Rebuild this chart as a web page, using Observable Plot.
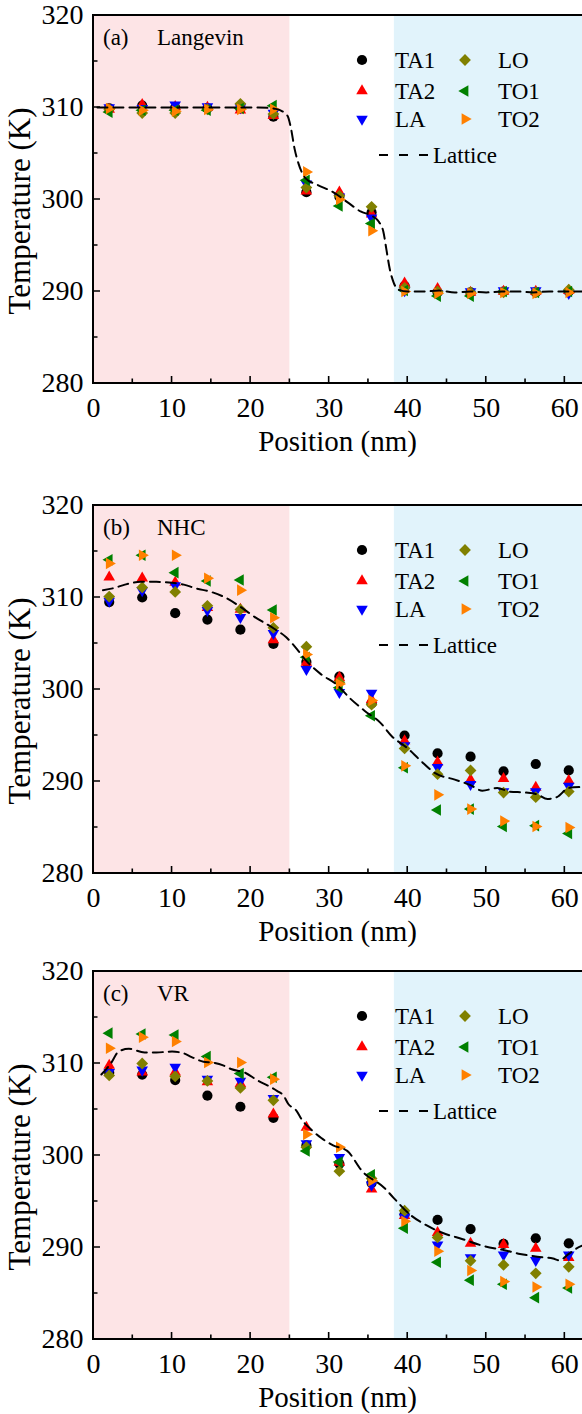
<!DOCTYPE html>
<html><head><meta charset="utf-8">
<script src="https://cdn.jsdelivr.net/npm/d3@7"></script>
<script src="https://cdn.jsdelivr.net/npm/@observablehq/plot@0.6"></script>
<style>
html,body{margin:0;padding:0;background:#fff;overflow:hidden;}
#chart{width:582px;}
#chart svg{display:block;}
</style></head><body><div id="chart"></div>
<script>
const FONT = "'Liberation Serif', 'DejaVu Serif', serif";

// ---------- data ----------
const positions = [2.0, 6.2, 10.4, 14.5, 18.7, 22.9, 27.1, 31.3, 35.4, 39.6, 43.8, 48.0, 52.2, 56.3, 60.5];
const seriesNames = ["TA1", "TA2", "LA", "LO", "TO1", "TO2"];
const seriesColors = ["#000000", "#ff0000", "#0000ff", "#808000", "#008000", "#ff8000"];
const panelLetters = ["(a)", "(b)", "(c)"];
const panelMethods = ["Langevin", "NHC", "VR"];
const xTitle = "Position (nm)";
const yTitle = "Temperature (K)";
const latticeLabel = "Lattice";
const xTicks = [0, 10, 20, 30, 40, 50, 60];
const xMinorTicks = [5, 15, 25, 35, 45, 55];
const yTicks = [280, 290, 300, 310, 320];
const yMinorTicks = [285, 295, 305, 315];
const xDomain = [0, 62.25];
const yDomain = [280, 320];
const hotRegion = [0, 25];
const coldRegion = [38.3, 62.25];

// (a) Langevin
const a_TA1 = [309.9, 310.2, 310.0, 309.9, 309.9, 309.0, 300.8, 300.3, 298.6, 290.6, 289.9, 289.9, 290.0, 289.9, 290.0];
const a_TA2 = [309.8, 310.3, 310.1, 310.0, 309.7, 309.1, 300.9, 300.8, 298.4, 290.9, 290.3, 289.9, 290.0, 290.0, 290.1];
const a_LA  = [310.0, 309.9, 310.3, 310.1, 310.0, 309.4, 301.7, 300.3, 298.0, 290.1, 289.8, 290.0, 290.1, 290.1, 289.8];
const a_LO  = [309.8, 309.4, 309.4, 309.8, 310.4, 309.3, 301.3, 300.4, 299.2, 290.4, 290.0, 289.9, 289.9, 289.9, 290.2];
const a_TO1 = [309.5, 309.7, 309.7, 309.7, 309.9, 310.2, 302.1, 299.3, 297.4, 290.1, 289.5, 289.5, 290.0, 289.9, 290.0];
const a_TO2 = [309.9, 309.7, 309.6, 309.8, 309.8, 309.8, 303.0, 300.0, 296.6, 290.0, 289.8, 289.8, 289.9, 289.8, 289.9];
const a_latX = [0.5, 3, 6, 9, 12, 15, 18, 21, 23.2, 24.7, 25.1, 25.6, 26.1, 27.0, 28.5, 30.5, 32.5, 34.0, 35.5, 36.3, 36.9, 37.3, 37.7, 38.2, 38.8, 40, 42, 44, 46, 48, 50, 52, 54, 56, 58, 60, 62.2];
const a_latT = [310.0, 310.0, 310.0, 310.0, 310.0, 310.0, 310.0, 310.0, 309.85, 309.1, 307.9, 305.5, 303.9, 302.3, 301.6, 300.8, 299.6, 298.7, 298.2, 297.6, 296.5, 294.5, 292.5, 291.0, 290.2, 290.0, 290.0, 290.1, 289.9, 290.0, 289.9, 290.0, 290.0, 289.9, 290.0, 290.0, 290.0];

// (b) NHC
const b_TA1 = [309.5, 310.0, 308.3, 307.6, 306.5, 304.95, 303.0, 301.4, 298.5, 295.0, 293.05, 292.7, 291.1, 291.9, 291.2];
const b_TA2 = [312.2, 312.1, 311.65, 308.9, 308.7, 305.4, 302.95, 301.3, 298.9, 294.4, 292.1, 290.2, 290.3, 289.35, 290.1];
const b_LA  = [309.6, 310.75, 311.3, 308.6, 307.85, 306.1, 302.2, 299.7, 299.6, 293.9, 291.55, 289.7, 288.9, 288.9, 289.5];
const b_LO  = [310.1, 311.1, 310.6, 309.1, 308.7, 306.7, 304.65, 300.8, 298.35, 293.6, 290.8, 291.2, 288.8, 288.3, 288.9];
const b_TO1 = [314.1, 314.6, 312.7, 311.8, 311.9, 308.65, 303.5, 300.2, 297.15, 291.5, 286.9, 287.0, 285.1, 285.2, 284.35];
const b_TO2 = [313.7, 314.6, 314.6, 312.1, 310.8, 307.8, 303.8, 300.6, 298.8, 291.7, 288.55, 287.0, 285.7, 285.1, 285.0];
const b_latX = [1.2, 2.5, 4, 6, 8, 10, 11.5, 13, 15, 17, 18.5, 20.5, 23, 24.5, 25.5, 27, 28.9, 31, 32.7, 34.5, 36.5, 38, 40, 41.6, 43.5, 46, 48, 49.5, 51.4, 53, 55, 56.5, 57.8, 59, 60.5, 62.2];
const b_latT = [310.8, 311.0, 311.4, 311.7, 311.7, 311.6, 311.4, 311.0, 310.6, 309.9, 309.1, 307.9, 306.6, 305.7, 304.8, 303.2, 301.7, 300.5, 299.0, 297.7, 296.4, 294.9, 293.6, 292.3, 290.9, 290.2, 289.6, 289.0, 289.3, 288.9, 288.8, 288.6, 288.1, 288.3, 289.3, 289.4];

// (c) VR
const c_TA1 = [309.0, 308.8, 308.2, 306.5, 305.3, 304.1, 301.1, 299.1, 297.0, 293.6, 293.0, 292.0, 290.4, 291.0, 290.45];
const c_TA2 = [309.8, 309.05, 309.05, 308.0, 307.8, 304.5, 303.05, 299.25, 296.35, 293.45, 291.6, 290.45, 290.3, 289.9, 288.9];
const c_LA  = [309.05, 309.3, 309.6, 308.3, 308.1, 306.2, 301.3, 299.8, 296.8, 293.3, 290.3, 288.9, 289.2, 288.6, 289.2];
const c_LO  = [308.7, 310.0, 308.6, 308.1, 307.35, 306.0, 300.9, 298.3, 297.5, 294.0, 291.1, 288.55, 288.1, 287.2, 287.9];
const c_TO1 = [313.3, 313.2, 313.1, 310.75, 308.9, 308.5, 300.5, 299.3, 297.9, 292.1, 288.4, 286.45, 286.0, 284.55, 285.6];
const c_TO2 = [311.65, 312.85, 312.4, 310.1, 310.1, 308.3, 302.3, 300.9, 297.25, 292.85, 289.6, 287.5, 286.3, 285.7, 286.0];
const c_latX = [1.0, 2.2, 3.2, 4.5, 6.5, 8, 10, 11.5, 12.5, 14, 15.2, 16.5, 17.5, 19.3, 21, 22.2, 23.4, 24.2, 24.8, 25.8, 26.6, 27.6, 29, 30.5, 32.3, 34.2, 37, 38.2, 40.4, 42.2, 44.4, 47, 49.5, 52.3, 54.3, 56.5, 58.5, 59.3, 60.5, 61.5, 62.2];
const c_latT = [308.8, 310.0, 311.3, 311.6, 311.2, 311.2, 311.3, 311.1, 310.7, 310.2, 310.1, 309.8, 309.4, 309.0, 308.1, 307.6, 307.0, 306.5, 305.6, 304.9, 303.8, 302.9, 301.9, 301.1, 300.5, 298.3, 296.5, 295.4, 293.5, 292.5, 291.6, 290.9, 290.2, 289.7, 289.3, 289.0, 288.8, 288.6, 289.3, 289.9, 290.2];

// ---------- symbols ----------
const sqrt3 = Math.sqrt(3);
function triangleDir(dir) {
  return {
    draw(ctx, size) {
      const y = -Math.sqrt(size / (sqrt3 * 3));
      if (dir === "down") { ctx.moveTo(0, -2 * y); ctx.lineTo(sqrt3 * y, y); ctx.lineTo(-sqrt3 * y, y); }
      else if (dir === "left") { ctx.moveTo(2 * y, 0); ctx.lineTo(-y, sqrt3 * y); ctx.lineTo(-y, -sqrt3 * y); }
      else { ctx.moveTo(-2 * y, 0); ctx.lineTo(y, sqrt3 * y); ctx.lineTo(y, -sqrt3 * y); }
      ctx.closePath();
    }
  };
}
const markerSymbols = [d3.symbolCircle, d3.symbolTriangle, triangleDir("down"), d3.symbolDiamond2, triangleDir("left"), triangleDir("right")];
const markerR = [5.1, 4.3, 4.3, 5.3, 4.3, 4.3];

const PINK = "#fde4e6", BLUE = "#e1f3fb";

// ---------- custom marks ----------
function frameAxes(index, scales, values, dims) {
  const {x, y} = scales;
  const L = dims.marginLeft, R = dims.width - dims.marginRight;
  const T = dims.marginTop, B = dims.height - dims.marginBottom;
  const g = d3.create("svg:g").attr("fill", "none").attr("stroke", "black");
  const ticks = d3.path();
  for (const v of xTicks) { ticks.moveTo(x(v), B); ticks.lineTo(x(v), B - 7); }
  for (const v of xMinorTicks) { ticks.moveTo(x(v), B); ticks.lineTo(x(v), B - 4.5); }
  for (const v of yTicks) { ticks.moveTo(L, y(v)); ticks.lineTo(L + 7, y(v)); }
  for (const v of yMinorTicks) { ticks.moveTo(L, y(v)); ticks.lineTo(L + 4.5, y(v)); }
  g.append("path").attr("d", ticks.toString()).attr("stroke-width", 1.6);
  g.append("path").attr("d", `M${R},${T}H${L}V${B}H${R}`).attr("stroke-width", 2);
  return g.node();
}

function titlesMark(index, scales, values, dims) {
  const L = dims.marginLeft, R = dims.width - dims.marginRight;
  const T = dims.marginTop, B = dims.height - dims.marginBottom;
  const g = d3.create("svg:g").attr("font-family", FONT).attr("fill", "black").attr("text-anchor", "middle");
  g.append("text").attr("font-size", 29).attr("x", (L + R) / 2).attr("y", B + 68).text(xTitle);
  g.append("text").attr("font-size", 31).attr("transform", `translate(30,${(T + B) / 2 + 12}) rotate(-90)`).text(yTitle);
  return g.node();
}

function legendMark(letter, method) {
  return (index, scales, values, dims) => {
    const T = dims.marginTop;
    const g = d3.create("svg:g").attr("font-family", FONT).attr("font-size", 23).attr("fill", "black").attr("text-anchor", "start");
    g.append("text").attr("x", 103).attr("y", T + 22).attr("dy", "0.35em").text(letter);
    g.append("text").attr("x", 157).attr("y", T + 22).attr("dy", "0.35em").text(method);
    const markerX = [362, 465], labelX = [395, 498], rowY = [45, 76, 104];
    seriesNames.forEach((name, i) => {
      const col = Math.floor(i / 3), row = i % 3;
      const cy = T + rowY[row];
      g.append("path")
        .attr("d", d3.symbol(markerSymbols[i], Math.PI * markerR[i] * markerR[i])())
        .attr("transform", `translate(${markerX[col]},${cy})`)
        .attr("fill", seriesColors[i]);
      g.append("text").attr("x", labelX[col]).attr("y", cy).attr("dy", "0.35em").text(name);
    });
    const ly = T + 140;
    g.append("path").attr("d", `M379,${ly}H429`).attr("stroke", "black").attr("stroke-width", 2).attr("stroke-dasharray", "9,11").attr("fill", "none");
    g.append("text").attr("x", 433).attr("y", ly).attr("dy", "0.35em").text(latticeLabel);
    return g.node();
  };
}

// ---------- panels ----------
const panels = [
  {letter: panelLetters[0], method: panelMethods[0], series: [a_TA1, a_TA2, a_LA, a_LO, a_TO1, a_TO2], latX: a_latX, latT: a_latT, height: 490, marginBottom: 107},
  {letter: panelLetters[1], method: panelMethods[1], series: [b_TA1, b_TA2, b_LA, b_LO, b_TO1, b_TO2], latX: b_latX, latT: b_latT, height: 466, marginBottom: 83},
  {letter: panelLetters[2], method: panelMethods[2], series: [c_TA1, c_TA2, c_LA, c_LO, c_TO1, c_TO2], latX: c_latX, latT: c_latT, height: 458, marginBottom: 75}
];

const regions = [{r: hotRegion, fill: PINK}, {r: coldRegion, fill: BLUE}];

for (const p of panels) {
  const dotMarks = p.series.map((vals, i) =>
    Plot.dot(positions.map((x, j) => ({x, T: vals[j]})), {
      x: "x", y: "T", symbol: markerSymbols[i], r: markerR[i], fill: seriesColors[i], stroke: "none"
    })
  );
  const lattice = p.latX.map((x, j) => ({x, T: p.latT[j]}));
  const chart = Plot.plot({
    width: 582,
    height: p.height,
    marginLeft: 93,
    marginRight: 0,
    marginTop: 15,
    marginBottom: p.marginBottom,
    style: {fontFamily: FONT, fontSize: "28px", color: "black", background: "transparent", overflow: "visible"},
    x: {domain: xDomain, ticks: xTicks, tickSize: 0, tickPadding: 14, label: null},
    y: {domain: yDomain, ticks: yTicks, tickSize: 0, tickPadding: 10, label: null},
    marks: [
      Plot.rect(regions, {x1: d => d.r[0], x2: d => d.r[1], y1: () => yDomain[0], y2: () => yDomain[1], fill: d => d.fill}),
      ...dotMarks,
      Plot.line(lattice, {x: "x", y: "T", stroke: "black", strokeWidth: 2, strokeDasharray: "10,6", curve: "monotone-x"}),
      frameAxes,
      titlesMark,
      legendMark(p.letter, p.method)
    ]
  });
  chart.querySelectorAll("text").forEach(t => { t.style.fontFamily = FONT; });
  document.getElementById("chart").appendChild(chart);
}
</script>
</body></html>
